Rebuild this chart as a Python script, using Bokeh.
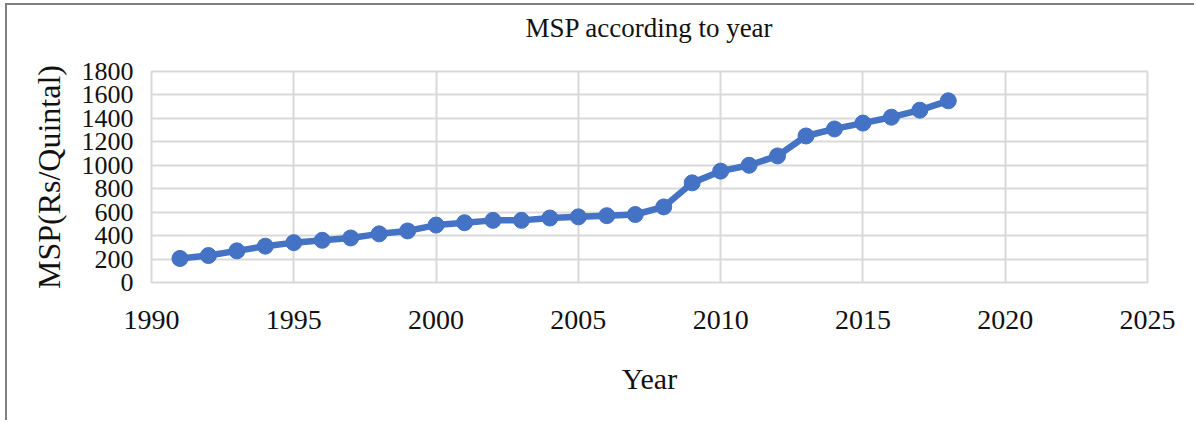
from bokeh.plotting import figure
from bokeh.models import FixedTicker, Range1d, Title
from bokeh.embed import file_html
from bokeh.resources import INLINE

# Minimum support price of paddy by year
years = [1991, 1992, 1993, 1994, 1995, 1996, 1997, 1998, 1999, 2000,
         2001, 2002, 2003, 2004, 2005, 2006, 2007, 2008, 2009, 2010,
         2011, 2012, 2013, 2014, 2015, 2016, 2017, 2018]
msp = [205, 230, 270, 310, 340, 360, 380, 415, 440, 490,
       510, 530, 530, 550, 560, 570, 580, 645, 850, 950,
       1000, 1080, 1250, 1310, 1360, 1410, 1470, 1550]

x_ticks = [1990, 1995, 2000, 2005, 2010, 2015, 2020, 2025]
y_ticks = [0, 200, 400, 600, 800, 1000, 1200, 1400, 1600, 1800]

FONT = "Liberation Serif"
BLUE = "#4472C4"
GRID = "#d9d9d9"

p = figure(width=1189, height=417, output_backend="svg", toolbar_location=None,
           x_range=Range1d(1990, 2025), y_range=Range1d(0, 1800),
           min_border_left=144, min_border_right=49,
           min_border_top=66, min_border_bottom=140)
p.margin = (3, 0, 0, 5)
p.styles = {"border-top": "2px solid #7f7f7f", "border-left": "2px solid #7f7f7f"}

p.title.text = "MSP according to year"
p.title.align = "center"
p.title.text_font = FONT
p.title.text_font_size = "27px"
p.title.text_font_style = "normal"
p.title.text_color = "#111111"
p.title.offset = 0

# empty strip between the title and the plot frame
p.add_layout(Title(text=" ", text_font_size="20px", standoff=0), "above")

p.line(years, msp, line_color=BLUE, line_width=6.5)
p.scatter(years, msp, size=16, fill_color=BLUE, line_color=BLUE)

p.xaxis.ticker = FixedTicker(ticks=x_ticks)
p.yaxis.ticker = FixedTicker(ticks=y_ticks)
p.xaxis.axis_label = "Year"
p.yaxis.axis_label = "MSP(Rs/Quintal)"

for ax in (p.xaxis, p.yaxis):
    ax.axis_line_color = None
    ax.major_tick_line_color = None
    ax.minor_tick_line_color = None
    ax.major_label_text_font = FONT
    ax.major_label_text_color = "#111111"
    ax.axis_label_text_font = FONT
    ax.axis_label_text_font_style = "normal"
    ax.axis_label_text_color = "#111111"

p.xaxis.major_label_text_font_size = "28px"
p.yaxis.major_label_text_font_size = "26px"
p.xaxis.axis_label_text_font_size = "30px"
p.yaxis.axis_label_text_font_size = "32px"
p.xaxis.major_label_standoff = 22
p.yaxis.major_label_standoff = 12
p.xaxis.axis_label_standoff = 30
p.yaxis.axis_label_standoff = 12

p.xgrid.grid_line_color = GRID
p.ygrid.grid_line_color = GRID
p.xgrid.grid_line_width = 2
p.ygrid.grid_line_width = 2
p.outline_line_color = GRID
p.outline_line_width = 2

open("out.html", "w").write(file_html(p, INLINE))
